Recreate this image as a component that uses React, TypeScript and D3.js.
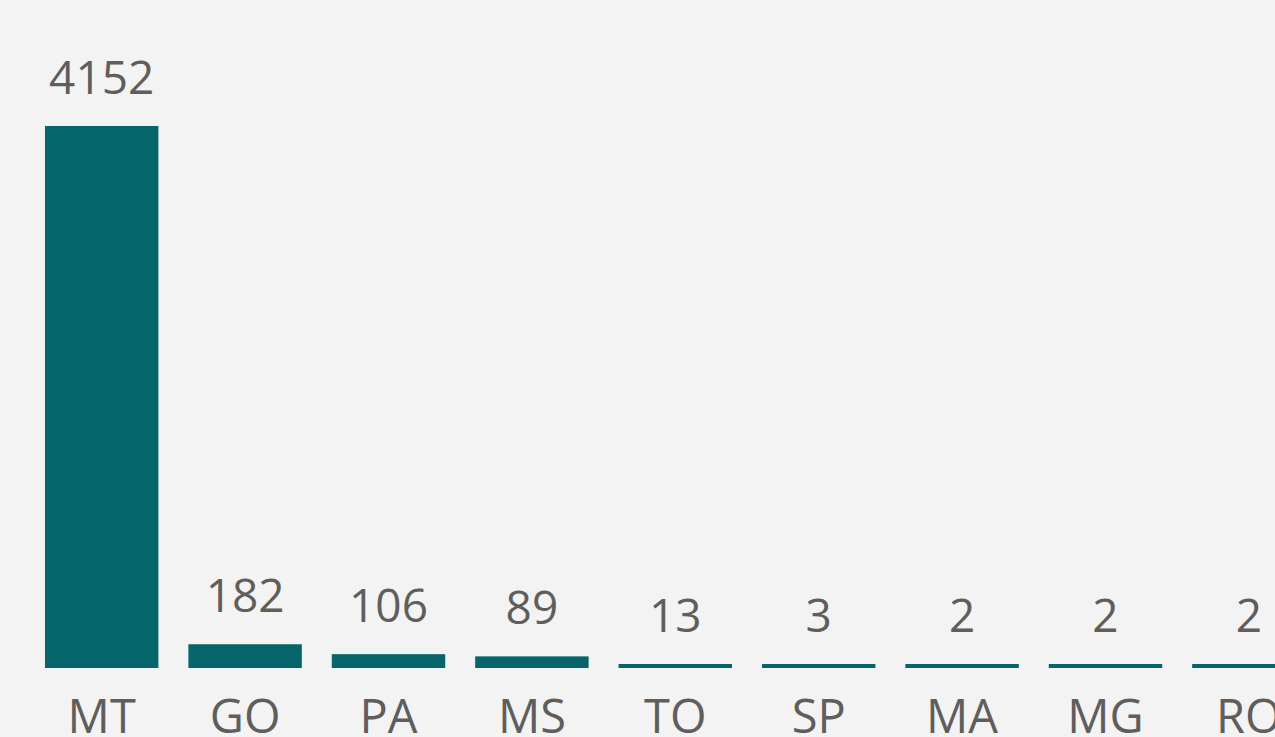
import React, { useEffect, useRef } from 'react';
import * as d3 from 'd3';

const states = ['MT', 'GO', 'PA', 'MS', 'TO', 'SP', 'MA', 'MG', 'RO'];
const counts = [4152, 182, 106, 89, 13, 3, 2, 2, 2];

const W = 1275, H = 737;

export default function App() {
  const ref = useRef<SVGSVGElement>(null);

  useEffect(() => {
    const svg = d3.select(ref.current);
    svg.selectAll('*').remove();

    const data = states.map((s, i) => ({ s, v: counts[i] }));

    // step ~143.4px, the last bar runs off the right edge
    const x = d3.scaleBand().domain(states).range([30, 30 + 9 * 143.4])
      .paddingInner(0.209).paddingOuter(0.1045);
    const y = d3.scaleLinear().domain([0, 4152]).range([668, 126]);

    svg.append('rect').attr('width', W).attr('height', H).attr('fill', '#f3f3f3');

    const barTop = (v: number) => Math.min(y(v), 668 - 4);

    svg.selectAll('.bar').data(data).join('rect')
      .attr('class', 'bar')
      .attr('x', d => x(d.s)!)
      .attr('y', d => barTop(d.v))
      .attr('width', x.bandwidth())
      .attr('height', d => 668 - barTop(d.v))
      .attr('fill', '#05656a');

    const font = '"Open Sans", "Noto Sans", sans-serif';

    svg.selectAll('.val').data(data).join('text')
      .attr('class', 'val')
      .attr('x', d => x(d.s)! + x.bandwidth() / 2)
      .attr('y', d => barTop(d.v) - 32)
      .attr('text-anchor', 'middle')
      .attr('font-family', font)
      .attr('font-size', 46)
      .attr('fill', '#605e5c')
      .text(d => d.v);

    svg.selectAll('.cat').data(data).join('text')
      .attr('class', 'cat')
      .attr('x', d => x(d.s)! + x.bandwidth() / 2)
      .attr('y', 733)
      .attr('text-anchor', 'middle')
      .attr('font-family', font)
      .attr('font-size', 47)
      .attr('fill', '#605e5c')
      .text(d => d.s);
  }, []);

  return (
    <div style={{ position: 'fixed', left: 0, top: 0, width: W, height: H, overflow: 'hidden' }}>
      <svg ref={ref} width={W} height={H} style={{ display: 'block' }} />
    </div>
  );
}
